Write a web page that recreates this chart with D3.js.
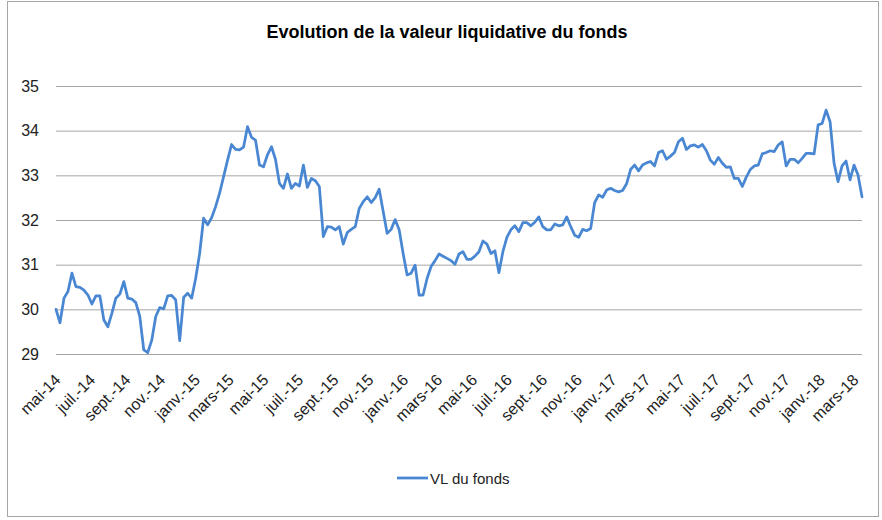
<!DOCTYPE html>
<html>
<head>
<meta charset="utf-8">
<script src="https://cdn.jsdelivr.net/npm/d3@7"></script>
<style>
  html, body { margin: 0; padding: 0; background: #fff; }
  svg { display: block; }
</style>
</head>
<body>
<svg id="chart" width="882" height="520"></svg>
<script>
const title = "Evolution de la valeur liquidative du fonds";
const seriesName = "VL du fonds";
const startDate = "2014-05-02";      // first weekly observation
const stepDays = 7;                   // weekly NAV
const yTicks = [29, 30, 31, 32, 33, 34, 35];
const xTickLabels = ["mai-14","juil.-14","sept.-14","nov.-14","janv.-15","mars-15","mai-15","juil.-15","sept.-15","nov.-15","janv.-16","mars-16","mai-16","juil.-16","sept.-16","nov.-16","janv.-17","mars-17","mai-17","juil.-17","sept.-17","nov.-17","janv.-18","mars-18"];
const navValues = [
  30.00,29.70,30.25,30.40,30.81,30.51,30.49,30.43,30.32,30.12,
  30.30,30.30,29.76,29.61,29.91,30.25,30.34,30.62,30.25,30.23,
  30.15,29.84,29.09,29.03,29.31,29.84,30.04,30.01,30.30,30.31,
  30.21,29.30,30.27,30.36,30.25,30.69,31.25,32.04,31.89,32.05,
  32.30,32.60,32.97,33.34,33.69,33.58,33.57,33.63,34.09,33.85,
  33.79,33.23,33.19,33.46,33.64,33.36,32.82,32.71,33.03,32.71,
  32.82,32.76,33.23,32.73,32.93,32.88,32.75,31.63,31.85,31.84,
  31.78,31.85,31.46,31.72,31.79,31.85,32.26,32.41,32.52,32.39,
  32.50,
  32.69,32.19,31.70,31.79,32.01,31.78,31.25,30.77,30.81,30.99,
  30.32,30.32,30.69,30.96,31.09,31.24,31.19,31.14,31.09,31.01,
  31.24,31.29,31.12,31.12,31.19,31.29,31.53,31.46,31.25,31.31,
  30.82,31.29,31.61,31.78,31.87,31.74,31.94,31.94,31.87,31.95,
  32.07,31.85,31.78,31.78,31.91,31.87,31.89,32.07,31.85,31.66,
  31.61,31.79,31.76,31.81,32.39,32.56,32.51,32.67,32.71,32.66,
  32.63,32.66,32.81,33.13,33.23,33.10,33.23,33.28,33.31,33.21,
  33.51,33.55,33.36,33.43,33.51,33.75,33.83,33.58,33.66,33.68,
  33.63,33.69,33.55,33.34,33.25,33.40,33.27,33.18,33.19,32.93,
  32.93,32.75,32.96,33.13,33.21,33.23,33.48,33.51,33.55,33.53,
  33.68,33.75,33.21,33.36,33.36,33.28,33.38,33.49,33.49,33.48,
  34.13,34.16,34.46,34.20,33.27,32.86,33.21,33.32,32.90,33.23,
  33.01,32.52
];

(function () {
const t0 = d3.utcParse("%Y-%m-%d")(startDate);
const data = navValues.map((v, i) => ({ date: d3.utcDay.offset(t0, i * stepDays), value: v }));
const tickDates = xTickLabels.map((_, k) => d3.utcMonth.offset(t0, 2 * k));

const svg = d3.select("#chart");
const mLeft = 56, mRight = 862, mTop = 86, mBottom = 354;
const font = "'Liberation Sans', Arial, sans-serif";

// outer chart border
svg.append("rect")
  .attr("x", 7.5).attr("y", 1.5).attr("width", 871).attr("height", 515)
  .attr("fill", "#fff").attr("stroke", "#a6a6a6").attr("stroke-width", 1);

const x = d3.scaleUtc().domain(d3.extent(data, d => d.date)).range([mLeft, mRight]);
const y = d3.scaleLinear().domain([29, 35]).range([mBottom, mTop]);

// title
svg.append("text")
  .attr("x", 447).attr("y", 38)
  .attr("text-anchor", "middle")
  .attr("font-family", font).attr("font-size", 18).attr("font-weight", "bold")
  .attr("fill", "#000")
  .text(title);

// gridlines + y axis
const yAxis = d3.axisLeft(y).tickValues(yTicks).tickSize(-(mRight - mLeft)).tickPadding(17).tickFormat(d3.format("d"));
const gy = svg.append("g").attr("transform", `translate(${mLeft},0)`).call(yAxis);
gy.select(".domain").remove();
gy.selectAll(".tick line").attr("stroke", "#a6a6a6").attr("stroke-width", 1);
gy.selectAll(".tick text").attr("font-family", font).attr("font-size", 16).attr("fill", "#222");

// x axis labels
const xAxis = d3.axisBottom(x).tickValues(tickDates).tickSize(0).tickFormat((d, i) => xTickLabels[i]);
const gx = svg.append("g").attr("transform", `translate(0,${mBottom})`).call(xAxis);
gx.select(".domain").remove();
gx.selectAll(".tick text")
  .attr("font-family", font).attr("font-size", 16).attr("fill", "#222")
  .attr("text-anchor", "end")
  .attr("y", 0).attr("dy", 0)
  .attr("transform", "translate(5,27) rotate(-45)");

// line
const line = d3.line().x(d => x(d.date)).y(d => y(d.value));
svg.append("path")
  .datum(data)
  .attr("d", line)
  .attr("fill", "none")
  .attr("stroke", "#4a87d3")
  .attr("stroke-width", 2.75)
  .attr("stroke-linejoin", "round")
  .attr("stroke-linecap", "round");

// legend
const lg = svg.append("g").attr("transform", "translate(397,478)");
lg.append("line").attr("x1", 0).attr("x2", 31).attr("y1", 0).attr("y2", 0)
  .attr("stroke", "#4a87d3").attr("stroke-width", 2.75);
lg.append("text").attr("x", 33).attr("y", 5.5)
  .attr("font-family", font).attr("font-size", 15).attr("fill", "#222")
  .text(seriesName);
})();
</script>
</body>
</html>
